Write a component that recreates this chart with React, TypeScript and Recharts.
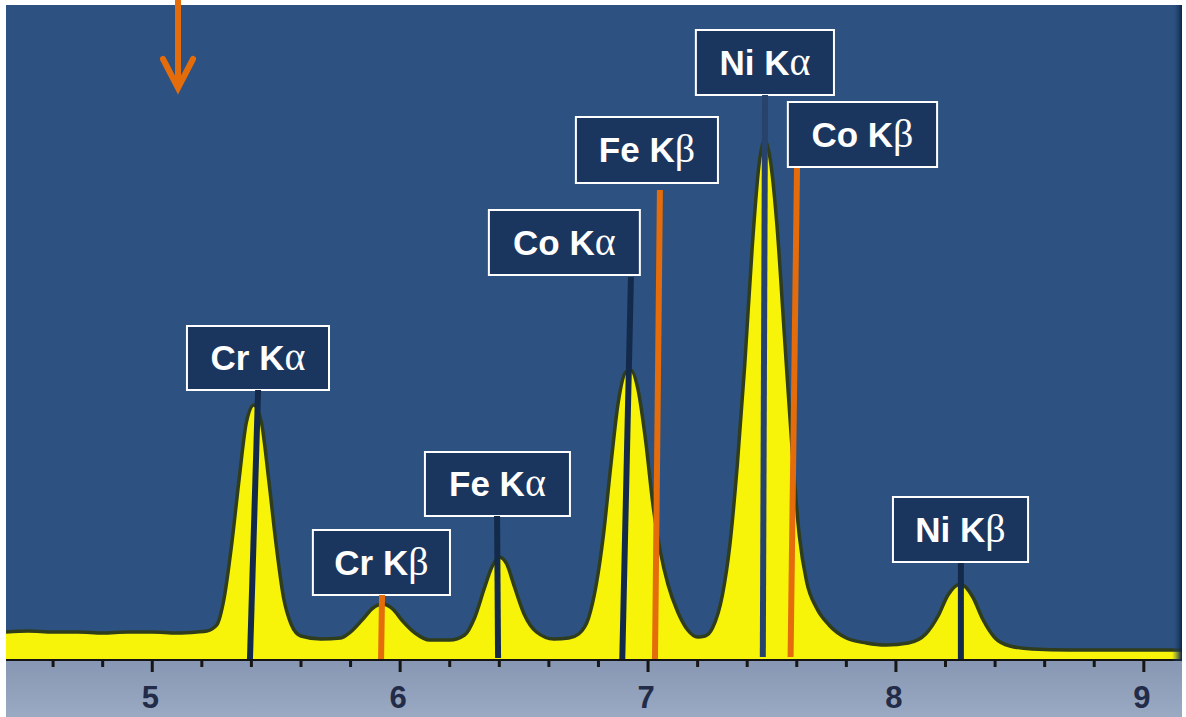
import React from "react";
import { AreaChart, Area, XAxis, YAxis, CartesianGrid, ReferenceLine, ReferenceArea } from "recharts";

// spectrum, energy in keV and counts (arbitrary units)
const energy = [
  4.41, 4.5, 4.6, 4.7, 4.8, 4.9, 5.0, 5.1, 5.18, 5.22, 5.26, 5.29, 5.32, 5.35, 5.38, 5.41, 5.44, 5.47,
  5.5, 5.53, 5.56, 5.6, 5.68, 5.76, 5.8, 5.85, 5.89, 5.93, 5.97, 6.01, 6.06, 6.12, 6.2, 6.26, 6.3, 6.34,
  6.37, 6.4, 6.43, 6.46, 6.5, 6.55, 6.62, 6.68, 6.72, 6.76, 6.79, 6.82, 6.85, 6.88, 6.91, 6.93, 6.96,
  6.99, 7.02, 7.05, 7.08, 7.12, 7.16, 7.2, 7.23, 7.26, 7.3, 7.33, 7.36, 7.39, 7.42, 7.45, 7.47, 7.49,
  7.52, 7.55, 7.58, 7.61, 7.64, 7.68, 7.73, 7.8, 7.88, 7.96, 8.05, 8.12, 8.17, 8.21, 8.26, 8.31, 8.35,
  8.4, 8.46, 8.55, 8.7, 8.9, 9.05, 9.154,
];
const counts = [
  28, 29, 28, 28, 27, 28, 28, 27, 28, 29, 35, 62, 115, 180, 238, 255, 238, 180,
  115, 62, 36, 24, 21, 22, 28, 41, 52, 56, 51, 39, 27, 20, 20, 25, 42, 72,
  93, 103, 96, 74, 46, 28, 21, 22, 26, 42, 74, 125, 195, 258, 288, 290, 270,
  220, 155, 108, 76, 48, 30, 23, 24, 32, 65, 115, 195, 295, 412, 500, 520, 505,
  435, 325, 215, 125, 78, 52, 35, 22, 17, 15, 17, 26, 44, 65, 76, 63, 41,
  22, 14, 11, 10, 10, 10, 10,
];

const tickValues = [4.6, 4.8, 5, 5.2, 5.4, 5.6, 5.8, 6, 6.2, 6.4, 6.6, 6.8, 7, 7.2, 7.4, 7.6, 7.8, 8, 8.2, 8.4, 8.6, 8.8, 9];
const majorTicks = [5, 6, 7, 8, 9];

// peak labels
const lineNames = ["Cr K", "Cr K", "Fe K", "Co K", "Fe K", "Ni K", "Co K", "Ni K"];
const lineGreek = ["α", "β", "α", "α", "β", "α", "β", "β"];
const boxLeft = [5.14, 5.648, 6.1, 6.358, 6.709, 7.193, 7.564, 7.988];
const boxRight = [5.713, 6.201, 6.685, 6.967, 7.282, 7.75, 8.166, 8.533];
const boxBottom = [270, 65, 144, 385, 477, 565, 493, 98];
const boxTop = [334, 130, 208, 450, 543, 630, 558, 163];
const markTopE = [5.427, 5.927, 6.391, 6.931, 7.048, 7.472, 7.601, 8.262];
const markTopC = [270, 65, 144, 383, 470, 565, 492, 97];
const markBottomE = [5.394, 5.923, 6.395, 6.896, 7.028, 7.463, 7.575, 8.262];
const markBottomC = [0, 0, 2, 0, 0, 3, 3, 0];
const markColors = ["#142a4b", "#e46c0a", "#142a4b", "#142a4b", "#e46c0a", "#27436c", "#e46c0a", "#142a4b"];

const data = energy.map((e, i) => ({ e, c: counts[i] }));

function Tick({ x, y, payload }: any) {
  const major = majorTicks.includes(payload.value);
  return (
    <g>
      <line x1={x} x2={x} y1={y} y2={y + (major ? 12 : 7)} stroke="#161616" strokeWidth={3} />
      {major && (
        <text
          x={x - 2}
          y={y + 48}
          textAnchor="middle"
          fontFamily="Liberation Sans, Arial, sans-serif"
          fontWeight="bold"
          fontSize={31}
          fill="#222b47"
        >
          {payload.value}
        </text>
      )}
    </g>
  );
}

function BoxText({ viewBox, name, greek }: any) {
  const cx = viewBox.x + viewBox.width / 2;
  const cy = viewBox.y + viewBox.height / 2 + 12;
  return (
    <text x={cx} y={cy} textAnchor="middle" fill="#ffffff">
      <tspan fontFamily="Liberation Sans, Arial, sans-serif" fontWeight="bold" fontSize={35}>
        {name}
      </tspan>
      <tspan fontFamily="Liberation Serif, serif" fontSize={40}>
        {greek}
      </tspan>
    </text>
  );
}

export default function App() {
  return (
    <div style={{ position: "absolute", left: 0, top: 0, width: 1186, height: 717, background: "#ffffff" }}>
      <div
        style={{
          position: "absolute",
          left: 6,
          top: 660,
          width: 1176,
          height: 57,
          background: "linear-gradient(#8796b2, #9aaac3)",
        }}
      />
      <AreaChart width={1186} height={717} data={data} margin={{ top: 5, right: 4, left: 6, bottom: 0 }}>
        <CartesianGrid fill="#2d5281" horizontal={false} vertical={false} />
        <XAxis
          dataKey="e"
          type="number"
          domain={[4.41, 9.154]}
          ticks={tickValues}
          interval={0}
          allowDataOverflow
          height={57}
          tickSize={0}
          tickMargin={0}
          tick={<Tick />}
          axisLine={{ stroke: "#141414", strokeWidth: 2 }}
        />
        <YAxis hide type="number" domain={[0, 655]} allowDataOverflow />
        <Area
          type="monotone"
          dataKey="c"
          stroke="#2f3d1c"
          strokeWidth={3.5}
          fill="#f7f40a"
          fillOpacity={1}
          dot={false}
          activeDot={false}
          isAnimationActive={false}
        />
        {lineNames.map((_, i) => (
          <ReferenceLine
            key={"l" + i}
            segment={[
              { x: markTopE[i], y: markTopC[i] },
              { x: markBottomE[i], y: markBottomC[i] },
            ]}
            stroke={markColors[i]}
            strokeWidth={6}
            ifOverflow="visible"
          />
        ))}
        {lineNames.map((n, i) => (
          <ReferenceArea
            key={"b" + i}
            x1={boxLeft[i]}
            x2={boxRight[i]}
            y1={boxBottom[i]}
            y2={boxTop[i]}
            fill="#1b365e"
            fillOpacity={1}
            stroke="#ffffff"
            strokeWidth={2}
            ifOverflow="visible"
            label={(p: any) => <BoxText viewBox={p.viewBox} name={n} greek={lineGreek[i]} />}
          />
        ))}
      </AreaChart>
      <svg width={1186} height={717} style={{ position: "absolute", left: 0, top: 0, pointerEvents: "none" }}>
        <defs>
          <linearGradient id="edge" x1="0" x2="1" y1="0" y2="0">
            <stop offset="0" stopColor="#2d5281" stopOpacity={0} />
            <stop offset="1" stopColor="#0d2144" />
          </linearGradient>
        </defs>
        <rect x={1172} y={5} width={10} height={656} fill="url(#edge)" />
        <line x1={178} y1={0} x2={178} y2={84} stroke="#e46c0a" strokeWidth={6} />
        <polyline
          points="163,59 178,88 193,59"
          fill="none"
          stroke="#e46c0a"
          strokeWidth={6}
          strokeLinecap="round"
          strokeLinejoin="miter"
        />
      </svg>
    </div>
  );
}
